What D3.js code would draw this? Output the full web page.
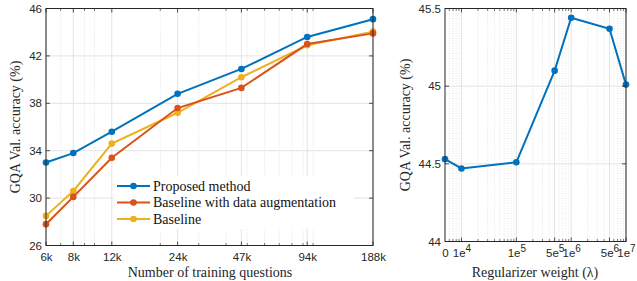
<!DOCTYPE html>
<html>
<head>
    <style>
        body { margin: 0; background: #fff; }
        .tick text { font: 11.5px "Liberation Sans", Arial, sans-serif; fill: #262626; }
        .lab { font-family: "Times New Roman", Times, "Liberation Serif", "DejaVu Serif Condensed", "DejaVu Serif"; font-size: 14px; fill: #262626; }
        .leg { font-family: "Times New Roman", Times, "Liberation Serif", "DejaVu Serif Condensed", "DejaVu Serif"; font-size: 14px; fill: #111; }
    </style>
</head>
<body>
    <script src="https://d3js.org/d3.v7.min.js"></script>
    <script>
        // Left panel data: accuracy vs number of training questions
        var questions = [6000, 8000, 12000, 24000, 47000, 94000, 188000];
        var questionLabels = ["6k", "8k", "12k", "24k", "47k", "94k", "188k"];
        var proposed = [33.0, 33.8, 35.6, 38.8, 40.9, 43.6, 45.1];
        var augmented = [27.8, 30.1, 33.4, 37.6, 39.3, 43.0, 43.9];
        var baseline = [28.5, 30.6, 34.6, 37.2, 40.2, 42.9, 44.05];
        var leftYTicks = [26, 30, 34, 38, 42, 46];

        // Right panel data: accuracy vs regularizer weight
        var lambdas = [0, 1e4, 1e5, 5e5, 1e6, 5e6, 1e7];
        var lambdaAcc = [44.53, 44.47, 44.51, 45.10, 45.44, 45.37, 45.01];
        var lambdaTicks = [0, 1e4, 1e5, 5e5, 1e6, 5e6, 1e7];
        var lambdaTickLabels = [["0", ""], ["1e", "4"], ["1e", "5"], ["5e", "5"], ["1e", "6"], ["5e", "6"], ["1e", "7"]];
        var rightYTicks = [44, 44.5, 45, 45.5];
        var zeroAt = 5e3; // where lambda = 0 sits on the log axis

        var series = [
            { name: "Proposed method", values: proposed, color: "#0072BD" },
            { name: "Baseline with data augmentation", values: augmented, color: "#D95319" },
            { name: "Baseline", values: baseline, color: "#EDB120" }
        ];

        var axisColor = "#262626";
        var svg = d3.select("body").append("svg")
            .attr("width", 637)
            .attr("height", 281);

        // minor positions for a log axis between lo and hi
        function minorLog(lo, hi) {
            var out = [];
            for (var e = Math.floor(Math.log10(lo)); e <= Math.ceil(Math.log10(hi)); e++) {
                for (var m = 1; m <= 9; m++) {
                    var v = m * Math.pow(10, e);
                    if (v > lo && v < hi) out.push(v);
                }
            }
            return out;
        }

        function drawFrame(g, x, y, minor, major, yTicks) {
            var r = x.range(), b = y.range();
            // minor grid (dotted)
            g.selectAll(".mgrid").data(minor).enter().append("line")
                .attr("x1", d => x(d)).attr("x2", d => x(d))
                .attr("y1", b[0]).attr("y2", b[1])
                .attr("stroke", "#d4d4d4").attr("stroke-width", 0.6)
                .attr("stroke-dasharray", "1,1.5");
            // major grid
            g.selectAll(".vgrid").data(major).enter().append("line")
                .attr("x1", d => x(d)).attr("x2", d => x(d))
                .attr("y1", b[0]).attr("y2", b[1])
                .attr("stroke", "#e3e3e3").attr("stroke-width", 1);
            g.selectAll(".hgrid").data(yTicks).enter().append("line")
                .attr("x1", r[0]).attr("x2", r[1])
                .attr("y1", d => y(d)).attr("y2", d => y(d))
                .attr("stroke", "#e3e3e3").attr("stroke-width", 1);
        }

        function drawBox(g, x, y, minor, major, yTicks) {
            var r = x.range(), b = y.range();
            // tick marks inward, bottom & top
            [b[0], b[1]].forEach(function (yy, i) {
                var dir = i === 0 ? -1 : 1;
                g.selectAll(null).data(major).enter().append("line")
                    .attr("x1", d => x(d)).attr("x2", d => x(d))
                    .attr("y1", yy).attr("y2", yy + dir * 4)
                    .attr("stroke", axisColor).attr("stroke-width", 0.8);
                g.selectAll(null).data(minor).enter().append("line")
                    .attr("x1", d => x(d)).attr("x2", d => x(d))
                    .attr("y1", yy).attr("y2", yy + dir * 2.5)
                    .attr("stroke", axisColor).attr("stroke-width", 0.6);
            });
            [r[0], r[1]].forEach(function (xx, i) {
                var dir = i === 0 ? 1 : -1;
                g.selectAll(null).data(yTicks).enter().append("line")
                    .attr("x1", xx).attr("x2", xx + dir * 4)
                    .attr("y1", d => y(d)).attr("y2", d => y(d))
                    .attr("stroke", axisColor).attr("stroke-width", 0.8);
            });
            g.append("rect")
                .attr("x", r[0]).attr("y", b[1])
                .attr("width", r[1] - r[0]).attr("height", b[0] - b[1])
                .attr("fill", "none").attr("stroke", axisColor).attr("stroke-width", 1);
        }

        // ---------- Left panel ----------
        var xL = d3.scaleLog().domain([6000, 188000]).range([46, 373]);
        var yL = d3.scaleLinear().domain([26, 46]).range([245.5, 8.5]);
        var gL = svg.append("g");
        var minorL = minorLog(6000, 188000).filter(v => questions.indexOf(v) < 0);
        drawFrame(gL, xL, yL, minorL, questions, leftYTicks);

        var line = d3.line().x((d, i) => xL(questions[i])).y(d => yL(d));
        // draw so that proposed ends on top
        series.slice().reverse().forEach(function (s) {
            gL.append("path").datum(s.values)
                .attr("d", line).attr("fill", "none")
                .attr("stroke", s.color).attr("stroke-width", 2);
            gL.selectAll(null).data(s.values).enter().append("circle")
                .attr("cx", (d, i) => xL(questions[i])).attr("cy", d => yL(d))
                .attr("r", 3.3).attr("fill", s.color);
        });

        // legend
        var leg = gL.append("g").attr("transform", "translate(114,176)");
        leg.append("rect").attr("width", 240).attr("height", 53).attr("fill", "#fff");
        series.forEach(function (s, i) {
            var yy = 10 + i * 16.5;
            leg.append("line").attr("x1", 3).attr("x2", 36).attr("y1", yy).attr("y2", yy)
                .attr("stroke", s.color).attr("stroke-width", 2);
            leg.append("circle").attr("cx", 19.5).attr("cy", yy).attr("r", 3.3).attr("fill", s.color);
            leg.append("text").attr("class", "leg").attr("x", 39).attr("y", yy + 4.5).text(s.name);
        });

        drawBox(gL, xL, yL, minorL, questions, leftYTicks);

        gL.append("g").attr("transform", "translate(0,245.5)")
            .call(d3.axisBottom(xL).tickValues(questions).tickFormat((d, i) => questionLabels[i]).tickSize(0).tickPadding(7))
            .call(g => g.select(".domain").remove());
        gL.append("g").attr("transform", "translate(46,0)")
            .call(d3.axisLeft(yL).tickValues(leftYTicks).tickSize(0).tickPadding(4))
            .call(g => g.select(".domain").remove());

        gL.append("text").attr("class", "lab").attr("x", 210).attr("y", 277)
            .attr("text-anchor", "middle").text("Number of training questions");
        gL.append("text").attr("class", "lab")
            .attr("transform", "translate(20,127) rotate(-90)")
            .attr("text-anchor", "middle").text("GQA Val. accuracy (%)");

        // ---------- Right panel ----------
        var xR = d3.scaleLog().domain([zeroAt, 1e7]).range([445, 626]);
        var yR = d3.scaleLinear().domain([44, 45.5]).range([241.5, 8.5]);
        var gR = svg.append("g");
        var lx = v => xR(v === 0 ? zeroAt : v);
        var majorR = lambdaTicks.filter(v => v > 0);
        var minorR = minorLog(zeroAt, 1e7).filter(v => majorR.indexOf(v) < 0);
        drawFrame(gR, xR, yR, minorR, majorR, rightYTicks);

        gR.append("path").datum(lambdaAcc)
            .attr("d", d3.line().x((d, i) => lx(lambdas[i])).y(d => yR(d)))
            .attr("fill", "none").attr("stroke", "#0072BD").attr("stroke-width", 2);
        gR.selectAll(null).data(lambdaAcc).enter().append("circle")
            .attr("cx", (d, i) => lx(lambdas[i])).attr("cy", d => yR(d))
            .attr("r", 3.3).attr("fill", "#0072BD");

        drawBox(gR, xR, yR, minorR, majorR, rightYTicks);

        var xAxR = gR.append("g").attr("transform", "translate(0,241.5)")
            .call(d3.axisBottom(xR).tickValues(lambdaTicks.map(v => v === 0 ? zeroAt : v)).tickFormat("").tickSize(0).tickPadding(7))
            .call(g => g.select(".domain").remove());
        xAxR.selectAll(".tick text").each(function (d, i) {
            var t = d3.select(this);
            t.append("tspan").text(lambdaTickLabels[i][0]);
            t.append("tspan").attr("dy", -4.5).attr("font-size", 10).text(lambdaTickLabels[i][1]);
        });
        gR.append("g").attr("transform", "translate(445,0)")
            .call(d3.axisLeft(yR).tickValues(rightYTicks).tickFormat(d3.format("")).tickSize(0).tickPadding(4))
            .call(g => g.select(".domain").remove());

        gR.append("text").attr("class", "lab").attr("x", 535).attr("y", 277)
            .attr("text-anchor", "middle").text("Regularizer weight (\u03bb)");
        gR.append("text").attr("class", "lab")
            .attr("transform", "translate(410,125) rotate(-90)")
            .attr("text-anchor", "middle").text("GQA Val. accuracy (%)");
    </script>
</body>
</html>
